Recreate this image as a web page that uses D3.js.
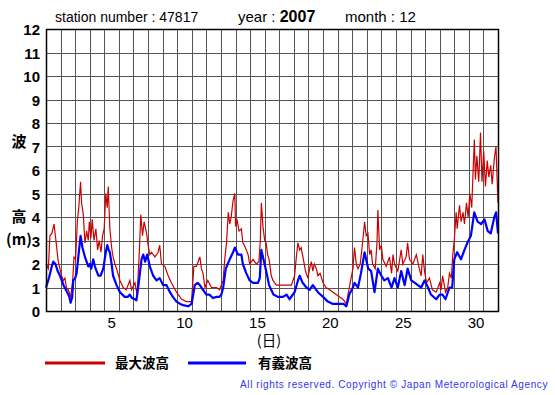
<!DOCTYPE html>
<html>
<head>
<meta charset="utf-8">
<script src="https://cdn.jsdelivr.net/npm/d3@7"></script>
<style>
  body { margin: 0; background: #fff; }
  svg { display: block; font-family: "Liberation Sans", Arial, sans-serif; }
</style>
</head>
<body>
<div id="chart"></div>
<script>
// wave heights (m), time in days since 1 Dec 00:00
var redDays = [0, 0.16, 0.27, 0.4, 0.55, 0.68, 0.84, 1.07, 1.19, 1.3, 1.4, 1.53, 1.69, 1.83, 1.92, 2.03, 2.15, 2.26, 2.37, 2.44, 2.56, 2.67, 2.79, 2.9, 2.97, 3.08, 3.17, 3.29, 3.42, 3.54, 3.65, 3.77, 3.88, 3.99, 4.1, 4.2, 4.27, 4.38, 4.5, 4.6, 4.73, 4.84, 5.07, 5.3, 5.5, 5.75, 5.87, 6.1, 6.25, 6.4, 6.5, 6.62, 6.73, 6.9, 7.0, 7.12, 7.24, 7.47, 7.69, 7.8, 7.92, 8.15, 8.38, 8.6, 8.95, 9.3, 9.64, 9.98, 10.14, 10.32, 10.55, 10.66, 10.77, 10.9, 11.1, 11.35, 11.7, 11.9, 12.15, 12.26, 12.38, 12.5, 12.6, 12.7, 12.83, 12.95, 13.0, 13.1, 13.24, 13.4, 13.5, 13.6, 13.74, 13.86, 13.97, 14.2, 14.43, 14.6, 14.7, 14.77, 14.88, 15.0, 15.1, 15.2, 15.3, 15.45, 15.57, 15.8, 16.14, 16.5, 16.83, 17.05, 17.17, 17.28, 17.4, 17.5, 17.62, 17.8, 17.96, 18.08, 18.2, 18.3, 18.4, 18.54, 18.65, 18.8, 19.0, 19.2, 19.45, 19.68, 19.9, 20.14, 20.36, 20.6, 20.8, 21.05, 21.16, 21.28, 21.4, 21.55, 21.73, 21.85, 21.96, 22.08, 22.2, 22.3, 22.4, 22.58, 22.7, 22.76, 22.88, 23.0, 23.1, 23.33, 23.56, 23.7, 23.8, 23.9, 24.13, 24.36, 24.47, 24.7, 24.8, 24.93, 25.16, 25.4, 25.6, 25.73, 25.84, 25.96, 26.1, 26.3, 26.5, 26.76, 27.0, 27.1, 27.2, 27.4, 27.55, 27.67, 27.8, 27.9, 28.0, 28.13, 28.2, 28.36, 28.47, 28.6, 28.7, 28.84, 28.95, 29.07, 29.2, 29.3, 29.38, 29.45, 29.55, 29.68, 29.8, 29.9, 30.02, 30.14, 30.26, 30.37, 30.5, 30.6, 30.75, 30.86, 31.0];
var redHeights = [2.0, 1.8, 3.2, 3.3, 3.7, 3.0, 2.1, 1.5, 1.3, 1.4, 1.0, 0.9, 0.6, 1.3, 2.3, 2.2, 3.8, 4.5, 5.5, 4.6, 4.1, 2.9, 3.4, 3.0, 3.8, 3.1, 3.9, 3.0, 3.5, 2.6, 3.0, 2.5, 3.2, 3.5, 5.0, 4.4, 5.3, 3.5, 2.7, 2.3, 2.0, 1.8, 1.3, 1.0, 0.9, 1.3, 0.9, 1.2, 0.7, 2.5, 4.1, 3.2, 3.8, 3.3, 2.8, 2.4, 2.5, 2.3, 2.5, 2.8, 2.0, 1.9, 1.5, 1.2, 0.8, 0.5, 0.4, 0.4, 1.9, 1.9, 2.3, 1.8, 1.6, 1.0, 1.3, 1.0, 1.0, 0.9, 1.3, 2.2, 2.9, 4.2, 3.7, 4.0, 4.7, 5.0, 3.6, 3.9, 3.4, 3.5, 2.9, 2.8, 2.6, 2.4, 2.0, 2.2, 2.0, 2.1, 3.0, 4.6, 3.6, 3.0, 2.9, 2.4, 2.2, 1.5, 1.3, 1.1, 1.1, 1.1, 1.1, 1.5, 2.3, 2.9, 2.6, 2.7, 2.3, 1.7, 1.4, 1.8, 2.1, 1.7, 2.0, 1.8, 1.5, 1.6, 1.2, 1.0, 0.9, 0.8, 0.7, 0.6, 0.5, 0.3, 1.0, 1.8, 2.7, 2.0, 1.8, 2.0, 3.0, 3.8, 3.2, 3.3, 2.4, 2.6, 2.0, 1.8, 2.9, 4.3, 2.6, 2.8, 2.2, 1.9, 2.3, 1.6, 2.4, 2.0, 1.7, 2.6, 2.0, 2.3, 2.9, 2.2, 2.0, 2.4, 1.8, 1.5, 2.4, 1.7, 1.2, 1.4, 0.9, 0.8, 1.2, 0.9, 1.5, 0.8, 1.0, 1.6, 1.4, 2.4, 3.0, 4.2, 3.5, 4.5, 3.8, 4.2, 3.7, 4.6, 4.0, 5.0, 4.4, 6.1, 7.3, 5.6, 6.6, 5.5, 7.6, 5.5, 6.8, 5.3, 6.4, 5.7, 6.2, 5.4, 6.5, 7.0, 4.6];

var blueDays = [0, 0.2, 0.4, 0.5, 0.65, 0.8, 0.96, 1.2, 1.45, 1.6, 1.69, 1.8, 1.87, 2.0, 2.1, 2.2, 2.37, 2.5, 2.67, 2.9, 3.0, 3.1, 3.24, 3.35, 3.47, 3.6, 3.74, 3.93, 4.1, 4.2, 4.3, 4.38, 4.5, 4.6, 4.84, 5.07, 5.4, 5.6, 5.75, 5.9, 6.1, 6.2, 6.3, 6.4, 6.55, 6.67, 6.8, 6.94, 7.12, 7.35, 7.58, 7.8, 8.03, 8.27, 8.5, 8.7, 8.95, 9.2, 9.4, 9.75, 9.98, 10.1, 10.2, 10.4, 10.55, 10.77, 11.0, 11.2, 11.46, 11.7, 11.9, 12.03, 12.15, 12.33, 12.6, 12.83, 12.95, 13.17, 13.4, 13.5, 13.74, 13.97, 14.2, 14.54, 14.66, 14.77, 14.88, 15.1, 15.3, 15.6, 15.9, 16.25, 16.5, 16.7, 17.05, 17.28, 17.4, 17.6, 17.86, 18.08, 18.3, 18.65, 19.0, 19.33, 19.68, 20.14, 20.4, 20.6, 20.8, 21.05, 21.16, 21.4, 21.6, 21.85, 22.1, 22.3, 22.53, 22.76, 23.0, 23.2, 23.45, 23.7, 23.9, 24.13, 24.36, 24.6, 24.8, 25.05, 25.3, 25.5, 25.73, 25.96, 26.2, 26.4, 26.76, 27.0, 27.2, 27.4, 27.67, 27.86, 28.0, 28.2, 28.46, 28.7, 28.9, 29.14, 29.37, 29.6, 29.84, 30.07, 30.3, 30.5, 30.75, 30.87, 31.0];
var blueHeights = [1.0, 1.4, 1.9, 2.1, 2.0, 1.7, 1.5, 1.1, 0.8, 0.6, 0.35, 0.6, 1.3, 1.4, 1.6, 2.2, 3.2, 2.7, 2.3, 1.9, 2.0, 1.8, 2.2, 1.9, 1.7, 1.5, 1.5, 1.8, 2.5, 2.8, 2.6, 2.5, 2.0, 1.5, 1.1, 0.8, 0.6, 0.6, 0.7, 0.55, 0.5, 0.45, 0.9, 1.4, 2.2, 2.4, 2.1, 2.4, 1.9, 1.5, 1.3, 1.4, 1.1, 1.1, 0.8, 0.6, 0.4, 0.3, 0.25, 0.2, 0.3, 0.7, 1.1, 1.2, 1.1, 0.9, 0.7, 0.7, 0.55, 0.6, 0.6, 0.7, 1.0, 1.8, 2.2, 2.5, 2.7, 2.4, 2.4, 2.0, 1.6, 1.3, 1.2, 1.2, 1.4, 2.6, 2.3, 1.7, 1.1, 0.7, 0.6, 0.6, 0.7, 0.5, 0.8, 1.3, 1.5, 1.2, 1.0, 0.9, 1.1, 0.8, 0.6, 0.4, 0.3, 0.3, 0.3, 0.2, 0.7, 1.0, 1.2, 1.0, 1.6, 2.5, 1.8, 1.7, 0.8, 1.8, 1.5, 1.3, 1.4, 1.0, 1.4, 1.0, 1.7, 1.1, 1.8, 1.3, 1.2, 1.1, 1.0, 1.3, 1.0, 0.7, 0.5, 0.7, 0.7, 0.5, 1.0, 1.0, 2.2, 2.5, 2.2, 2.6, 2.9, 3.2, 4.2, 3.8, 3.7, 3.9, 3.4, 3.3, 4.0, 4.2, 3.3];

var dayTicks = [5, 10, 15, 20, 25, 30];
var heightTicks = [0, 1, 2, 3, 4, 5, 6, 7, 8, 9, 10, 11, 12];
var legendNames = ["最大波高", "有義波高"];
var legendColors = ["#cc0000", "#0000ff"];

var plot = { left: 46, right: 498, top: 29, bottom: 311 };

var svg = d3.select("#chart").append("svg")
  .attr("width", 555)
  .attr("height", 395);

var x = d3.scaleLinear().domain([0, 31]).range([plot.left, plot.right]);
var y = d3.scaleLinear().domain([0, 12]).range([plot.bottom, plot.top]);

// title
var title = svg.append("g").style("font-size", "14px");
title.append("text").attr("x", 55).attr("y", 22).text("station number : 47817");
var yr = title.append("text").attr("x", 238).attr("y", 22).style("font-size", "15px");
yr.append("tspan").text("year : ");
yr.append("tspan").style("font-weight", "bold").style("font-size", "16px").text("2007");
title.append("text").attr("x", 345).attr("y", 22)
  .style("font-size", "15px")
  .text("month : 12");

// grid
var grid = svg.append("g").attr("stroke", "#555").attr("stroke-width", 1);
grid.selectAll(".vg").data(d3.range(1, 31)).enter().append("line")
  .attr("x1", function (d) { return Math.round(x(d)) + 0.5; })
  .attr("x2", function (d) { return Math.round(x(d)) + 0.5; })
  .attr("y1", plot.top).attr("y2", plot.bottom);
grid.selectAll(".hg").data(heightTicks.slice(1, -1)).enter().append("line")
  .attr("y1", function (d) { return Math.round(y(d)) + 0.5; })
  .attr("y2", function (d) { return Math.round(y(d)) + 0.5; })
  .attr("x1", plot.left).attr("x2", plot.right);

// series
var line = d3.line()
  .x(function (d) { return x(d[0]); })
  .y(function (d) { return y(d[1]); });

svg.append("path")
  .datum(d3.zip(redDays, redHeights))
  .attr("fill", "none")
  .attr("stroke", legendColors[0])
  .attr("stroke-width", 1.2)
  .attr("d", line);

svg.append("path")
  .datum(d3.zip(blueDays, blueHeights))
  .attr("fill", "none")
  .attr("stroke", legendColors[1])
  .attr("stroke-width", 2.2)
  .attr("stroke-linejoin", "round")
  .attr("d", line);

// frame
svg.append("rect")
  .attr("x", plot.left + 0.5).attr("y", plot.top + 0.5)
  .attr("width", plot.right - plot.left).attr("height", plot.bottom - plot.top)
  .attr("fill", "none").attr("stroke", "#000").attr("stroke-width", 1.5);

// y axis labels
svg.append("g").selectAll("text").data(heightTicks).enter().append("text")
  .attr("x", 40)
  .attr("y", function (d) { return y(d) + 6; })
  .attr("text-anchor", "end")
  .style("font-size", "15px")
  .style("font-weight", "bold")
  .text(function (d) { return d; });

// x axis labels, centred on each day
svg.append("g").selectAll("text").data(dayTicks).enter().append("text")
  .attr("x", function (d) { return x(d - 0.5); })
  .attr("y", 328)
  .attr("text-anchor", "middle")
  .style("font-size", "15px")
  .text(function (d) { return d; });

svg.append("text")
  .attr("x", x(15.5) - 3).attr("y", 346)
  .attr("text-anchor", "middle")
  .style("font-size", "14.5px")
  .style("font-family", "'Noto Sans CJK JP', sans-serif")
  .text("(日)");

// y axis title
var yTitle = [["波", 147], ["高", 222], ["(m)", 245]];
svg.append("g").selectAll("text").data(yTitle).enter().append("text")
  .attr("x", 19)
  .attr("y", function (d) { return d[1]; })
  .attr("text-anchor", "middle")
  .style("font-size", "15px")
  .style("font-weight", "bold")
  .style("font-family", "'Noto Sans CJK JP', sans-serif")
  .text(function (d) { return d[0]; });

// legend
var legend = svg.append("g").selectAll("g").data(legendNames).enter().append("g")
  .attr("transform", function (d, i) { return "translate(" + (45 + i * 143) + ",363)"; });
legend.append("line")
  .attr("x1", 0).attr("x2", function (d, i) { return i === 0 ? 60 : 58; })
  .attr("stroke", function (d, i) { return legendColors[i]; })
  .attr("stroke-width", 3);
legend.append("text")
  .attr("x", 70).attr("y", 5)
  .style("font-size", "13.5px")
  .style("font-weight", "bold")
  .style("font-family", "'Noto Sans CJK JP', sans-serif")
  .text(function (d) { return d; });

svg.append("text")
  .attr("x", 548).attr("y", 388)
  .attr("text-anchor", "end")
  .attr("fill", "#3333ee")
  .style("font-size", "10px")
  .style("letter-spacing", "0.6px")
  .text("All rights reserved. Copyright © Japan Meteorological Agency");
</script>
</body>
</html>
